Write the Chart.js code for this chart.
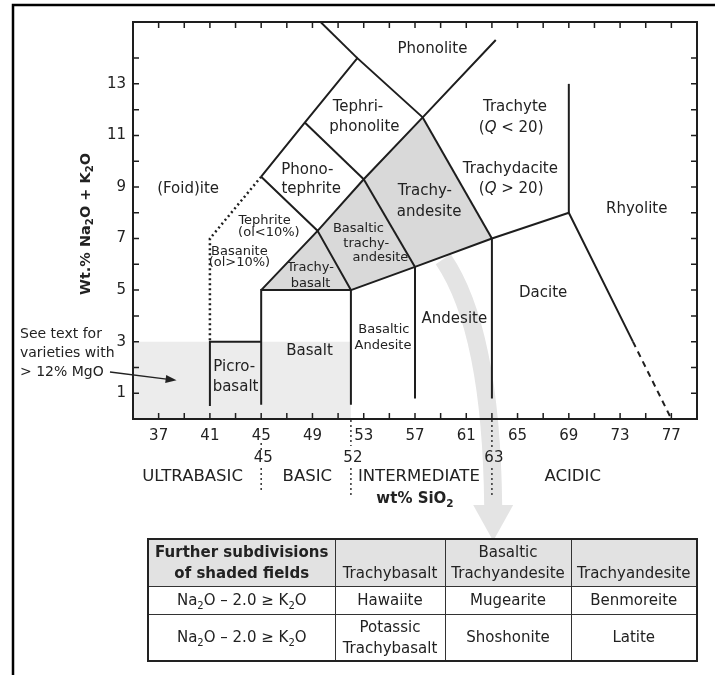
<!DOCTYPE html>
<html>
<head>
<meta charset="utf-8">
<script src="https://cdn.jsdelivr.net/npm/chart.js@4.4.0/dist/chart.umd.min.js"></script>
<style>
    html, body { margin: 0; padding: 0; background: #fff; }
    #wrap { position: relative; width: 715px; height: 675px; overflow: hidden; }
    #tas { position: absolute; left: 0; top: 0; }
    table.subdiv {
        position: absolute; left: 147px; top: 538px; width: 549px;
        border-collapse: collapse; table-layout: fixed;
        font-family: 'DejaVu Sans', sans-serif; font-size: 15px; color: #222;
        border: 2px solid #222;
    }
    table.subdiv td { border: 1.5px solid #333; text-align: center; padding: 0; line-height: 21px; }
    table.subdiv tr.head td { background: #e2e2e2; height: 44px; vertical-align: bottom; padding-bottom: 2px; }
    table.subdiv tr.r1 td { height: 27px; vertical-align: middle; }
    table.subdiv tr.r2 td { height: 45px; vertical-align: middle; }
    table.subdiv td.lead { font-weight: bold; }
    table.subdiv sub { font-size: 10px; line-height: 0; vertical-align: -4px; }
</style>
</head>
<body>
<div id="wrap">
    <canvas id="tas" width="715" height="675"></canvas>
    <table class="subdiv">
        <colgroup><col style="width:187px"><col style="width:110px"><col style="width:126px"><col style="width:126px"></colgroup>
        <tr class="head">
            <td class="lead">Further subdivisions<br>of shaded fields</td>
            <td>Trachybasalt</td>
            <td>Basaltic<br>Trachyandesite</td>
            <td>Trachyandesite</td>
        </tr>
        <tr class="r1">
            <td>Na<sub>2</sub>O – 2.0 ≥ K<sub>2</sub>O</td>
            <td>Hawaiite</td>
            <td>Mugearite</td>
            <td>Benmoreite</td>
        </tr>
        <tr class="r2">
            <td>Na<sub>2</sub>O – 2.0 ≥ K<sub>2</sub>O</td>
            <td>Potassic<br>Trachybasalt</td>
            <td>Shoshonite</td>
            <td>Latite</td>
        </tr>
    </table>
</div>
<script>
(function() {
    // axis ranges and labelled ticks
    var xMin = 35, xMax = 79, yMin = 0, yMax = 15.4;
    var xTickLabels = [37, 41, 45, 49, 53, 57, 61, 65, 69, 73, 77];
    var yTickLabels = [1, 3, 5, 7, 9, 11, 13];

    // field boundaries, [SiO2, Na2O+K2O]
    var picrobasaltEdge = [[41, 0.5], [41, 3], [45, 3]];
    var basaltEdge = [[45, 0.55], [45, 5], [52, 5], [52, 0.55]];
    var subalkalineTop = [[52, 5], [57, 5.9], [63, 7], [69, 8], [74, 3]];
    var rhyoliteTail = [[74, 3], [77, 0]];
    var andesiteEdge = [[57, 5.9], [57, 0.8]];
    var daciteEdge = [[63, 7], [63, 0.8]];
    var rhyoliteEdge = [[69, 8], [69, 13]];
    var trachybasaltEdge = [[45, 5], [49.4, 7.3], [52, 5]];
    var tephriteTop = [[45, 9.4], [49.4, 7.3], [53, 9.3], [57.6, 11.7], [63.3, 14.7]];
    var trachyandesiteLeft = [[53, 9.3], [57, 5.9]];
    var trachyteEdge = [[57.6, 11.7], [63, 7]];
    var phonotephriteTop = [[45, 9.4], [48.4, 11.5], [52.5, 14], [57.6, 11.7]];
    var phonotephriteRight = [[48.4, 11.5], [53, 9.3]];
    var phonoliteLeft = [[52.5, 14], [48.4, 16]];
    var basaniteEdge = [[45, 9.4], [41, 7], [41, 3]];

    // shaded fields
    var trachybasaltField = [[45, 5], [49.4, 7.3], [52, 5], [45, 5]];
    var basTrachyandesiteField = [[52, 5], [49.4, 7.3], [53, 9.3], [57, 5.9], [52, 5]];
    var trachyandesiteField = [[57, 5.9], [53, 9.3], [57.6, 11.7], [63, 7], [57, 5.9]];
    var highMgOField = [[35, 0], [35, 3], [52, 3], [52, 0], [35, 0]];

    // field names, [text, SiO2, Na2O+K2O]
    var fieldLabels = [
        ['Phonolite', 58.36, 14.36],
        ['Tephri-', 52.55, 12.08], ['phonolite', 53.05, 11.34],
        ['(Foid)ite', 39.3, 8.9],
        ['Trachyte', 64.8, 12.08], ['({Q} < 20)', 64.5, 11.3],
        ['Trachydacite', 64.44, 9.7], ['({Q} > 20)', 64.5, 8.9],
        ['Trachy-', 57.77, 8.83], ['andesite', 58.1, 8.02],
        ['Rhyolite', 74.3, 8.13],
        ['Dacite', 67.0, 4.88],
        ['Andesite', 60.07, 3.87],
        ['Basalt', 48.77, 2.63],
        ['Picro-', 42.9, 2.01], ['basalt', 43.0, 1.24],
        ['Phono-', 48.6, 9.64], ['tephrite', 48.9, 8.9]
    ];
    var smallFieldLabels = [
        ['Tephrite', 45.26, 7.7], ['(ol<10%)', 45.6, 7.24],
        ['Basanite', 43.3, 6.5], ['(ol>10%)', 43.3, 6.07],
        ['Trachy-', 48.85, 5.88], ['basalt', 48.85, 5.27],
        ['Basaltic', 52.59, 7.39], ['trachy-', 53.2, 6.81], ['andesite', 54.3, 6.27],
        ['Basaltic', 54.57, 3.45], ['Andesite', 54.5, 2.83]
    ];

    // silica classes under the axis
    var classBounds = [45, 52, 63];
    var classLabels = [['ULTRABASIC', 39.65], ['BASIC', 48.6], ['INTERMEDIATE', 57.3], ['ACIDIC', 69.3]];

    var FONT = "'DejaVu Sans', sans-serif";
    var INK = '#1e1e1e';

    function toXY(arr) {
        return arr.map(function(p) { return { x: p[0], y: p[1] }; });
    }

    function edge(arr, dash, width) {
        return {
            data: toXY(arr), showLine: true, fill: false, tension: 0,
            borderColor: INK, borderWidth: width || 2, borderDash: dash || [],
            pointRadius: 0, order: 0
        };
    }

    function field(arr, color) {
        return {
            data: toXY(arr), showLine: true, fill: 'shape', tension: 0,
            backgroundColor: color, borderColor: 'rgba(0,0,0,0)', borderWidth: 0,
            pointRadius: 0, order: 10
        };
    }

    // split "Na_2O" / "{Q}" into plain, subscript and italic runs
    function richParts(str) {
        return str.split(/(\{[^}]*\}|_\d)/).filter(Boolean).map(function(s) {
            if (s[0] === '{') return { t: s.slice(1, -1), it: true };
            if (s[0] === '_') return { t: s.slice(1), sub: true };
            return { t: s };
        });
    }

    function drawRich(ctx, str, x, y, size, bold, align) {
        var parts = richParts(str);
        var fontOf = function(p) {
            var s = p.sub ? size * 0.7 : size;
            return (p.it ? 'italic ' : '') + (bold ? 'bold ' : '') + s + 'px ' + FONT;
        };
        var total = 0;
        parts.forEach(function(p) { ctx.font = fontOf(p); p.w = ctx.measureText(p.t).width; total += p.w; });
        var cx = align === 'left' ? x : x - total / 2;
        ctx.textAlign = 'left';
        ctx.textBaseline = 'middle';
        parts.forEach(function(p) {
            ctx.font = fontOf(p);
            ctx.fillText(p.t, cx, p.sub ? y + size * 0.32 : y);
            cx += p.w;
        });
    }

    function vDots(ctx, x, y0, y1) {
        ctx.save();
        ctx.setLineDash([2, 3]);
        ctx.lineWidth = 1.5;
        ctx.strokeStyle = '#333';
        ctx.beginPath();
        ctx.moveTo(x, y0);
        ctx.lineTo(x, y1);
        ctx.stroke();
        ctx.restore();
    }

    var decorPlugin = {
        id: 'tasDecor',
        beforeDatasetsDraw: function(chart) {
            var ctx = chart.ctx, xs = chart.scales.x, ys = chart.scales.y;
            var px = function(v) { return xs.getPixelForValue(v); };
            var py = function(v) { return ys.getPixelForValue(v); };
            // grey arrow pointing to the table
            ctx.save();
            ctx.strokeStyle = '#e4e4e4';
            ctx.fillStyle = '#e4e4e4';
            ctx.lineWidth = 18;
            ctx.beginPath();
            ctx.moveTo(px(59.2), py(6.2));
            ctx.quadraticCurveTo(px(62.95), py(3.45), px(63.1), 506);
            ctx.stroke();
            var tipX = px(63.1);
            ctx.beginPath();
            ctx.moveTo(tipX - 20, 505);
            ctx.lineTo(tipX + 20, 505);
            ctx.lineTo(tipX, 541);
            ctx.closePath();
            ctx.fill();
            ctx.restore();
        },
        afterDatasetsDraw: function(chart) {
            var ctx = chart.ctx, a = chart.chartArea, xs = chart.scales.x, ys = chart.scales.y;
            ctx.save();
            ctx.strokeStyle = INK;
            ctx.lineWidth = 2;
            ctx.strokeRect(a.left, a.top, a.right - a.left, a.bottom - a.top);
            ctx.lineWidth = 1.5;
            ctx.beginPath();
            xs.ticks.forEach(function(t) {
                if (t.value <= xMin || t.value >= xMax) return;
                var x = xs.getPixelForValue(t.value);
                ctx.moveTo(x, a.bottom); ctx.lineTo(x, a.bottom - 6);
                ctx.moveTo(x, a.top); ctx.lineTo(x, a.top + 6);
            });
            ys.ticks.forEach(function(t) {
                if (t.value <= yMin || t.value >= yMax || t.value % 1 !== 0) return;
                var y = ys.getPixelForValue(t.value);
                ctx.moveTo(a.left, y); ctx.lineTo(a.left + 6, y);
                ctx.moveTo(a.right, y); ctx.lineTo(a.right - 6, y);
            });
            ctx.stroke();

            ctx.fillStyle = '#222';
            fieldLabels.forEach(function(l) {
                drawRich(ctx, l[0], xs.getPixelForValue(l[1]), ys.getPixelForValue(l[2]), 15, false);
            });
            smallFieldLabels.forEach(function(l) {
                drawRich(ctx, l[0], xs.getPixelForValue(l[1]), ys.getPixelForValue(l[2]), 13, false);
            });
            ctx.restore();
        },
        afterDraw: function(chart) {
            var ctx = chart.ctx, a = chart.chartArea, xs = chart.scales.x, ys = chart.scales.y;
            ctx.save();
            ctx.fillStyle = '#222';

            // class boundaries and second row of silica values
            var x45 = xs.getPixelForValue(classBounds[0]);
            var x52 = xs.getPixelForValue(classBounds[1]);
            var x63 = xs.getPixelForValue(classBounds[2]);
            vDots(ctx, x45, 443, 450); vDots(ctx, x45, 468, 493);
            vDots(ctx, x52, a.bottom + 1, 446); vDots(ctx, x52, 468, 496);
            vDots(ctx, x63, a.bottom + 1, 447); vDots(ctx, x63, 468, 498);
            classBounds.forEach(function(v) {
                drawRich(ctx, String(v), xs.getPixelForValue(v) + 2, 458, 15, false);
            });
            classLabels.forEach(function(c) {
                drawRich(ctx, c[0], xs.getPixelForValue(c[1]), 477, 16.5, false);
            });

            // axis titles
            drawRich(ctx, 'wt% SiO_2', xs.getPixelForValue(57.0), 499, 15, true);
            ctx.save();
            ctx.translate(86, 224);
            ctx.rotate(-Math.PI / 2);
            drawRich(ctx, 'Wt.% Na_2O + K_2O', 0, 0, 14.5, true);
            ctx.restore();

            // note about high-MgO rocks
            drawRich(ctx, 'See text for', 20, 334, 14, false, 'left');
            drawRich(ctx, 'varieties with', 20, 353, 14, false, 'left');
            drawRich(ctx, '> 12% MgO', 20, 372, 14, false, 'left');
            var sx = 110, sy = 372;
            var ex = xs.getPixelForValue(38.4), ey = ys.getPixelForValue(1.5);
            ctx.strokeStyle = '#222';
            ctx.lineWidth = 1.3;
            ctx.beginPath();
            ctx.moveTo(sx, sy);
            ctx.lineTo(ex - 8, ey - 1);
            ctx.stroke();
            var ang = Math.atan2(ey - sy, ex - sx);
            ctx.beginPath();
            ctx.moveTo(ex, ey);
            ctx.lineTo(ex - 11 * Math.cos(ang) + 4 * Math.sin(ang), ey - 11 * Math.sin(ang) - 4 * Math.cos(ang));
            ctx.lineTo(ex - 11 * Math.cos(ang) - 4 * Math.sin(ang), ey - 11 * Math.sin(ang) + 4 * Math.cos(ang));
            ctx.closePath();
            ctx.fill();

            // outer frame (top and left only)
            ctx.strokeStyle = '#000';
            ctx.lineWidth = 2.5;
            ctx.beginPath();
            ctx.moveTo(13, 675);
            ctx.lineTo(13, 5);
            ctx.lineTo(715, 5);
            ctx.stroke();
            ctx.restore();
        }
    };

    var tickFont = { family: FONT, size: 15 };

    new Chart(document.getElementById('tas').getContext('2d'), {
        type: 'scatter',
        data: {
            datasets: [
                field(highMgOField, '#ececec'),
                field(trachybasaltField, '#d9d9d9'),
                field(basTrachyandesiteField, '#d9d9d9'),
                field(trachyandesiteField, '#d9d9d9'),
                edge(picrobasaltEdge),
                edge(basaltEdge),
                edge(subalkalineTop),
                edge(rhyoliteTail, [6, 5]),
                edge(andesiteEdge),
                edge(daciteEdge),
                edge(rhyoliteEdge),
                edge(trachybasaltEdge),
                edge(tephriteTop),
                edge(trachyandesiteLeft),
                edge(trachyteEdge),
                edge(phonotephriteTop),
                edge(phonotephriteRight),
                edge(phonoliteLeft),
                edge(basaniteEdge, [2, 3], 2.5)
            ]
        },
        options: {
            responsive: false,
            animation: false,
            layout: { padding: { left: 0, right: 18, top: 22, bottom: 226 } },
            plugins: {
                legend: { display: false },
                tooltip: { enabled: false }
            },
            scales: {
                x: {
                    type: 'linear', min: xMin, max: xMax,
                    afterFit: function(s) { s.height = 30; },
                    grid: { display: false, drawTicks: false },
                    border: { display: false },
                    ticks: {
                        stepSize: 2, autoSkip: false, maxRotation: 0, padding: 8,
                        color: '#222', font: tickFont,
                        callback: function(v) { return xTickLabels.indexOf(v) >= 0 ? String(v) : ''; }
                    }
                },
                y: {
                    type: 'linear', min: yMin, max: yMax,
                    afterFit: function(s) { s.width = 133; },
                    grid: { display: false, drawTicks: false },
                    border: { display: false },
                    ticks: {
                        stepSize: 1, autoSkip: false, padding: 7,
                        color: '#222', font: tickFont,
                        callback: function(v) { return yTickLabels.indexOf(v) >= 0 ? String(v) : ''; }
                    }
                }
            }
        },
        plugins: [decorPlugin]
    });
})();
</script>
</body>
</html>
